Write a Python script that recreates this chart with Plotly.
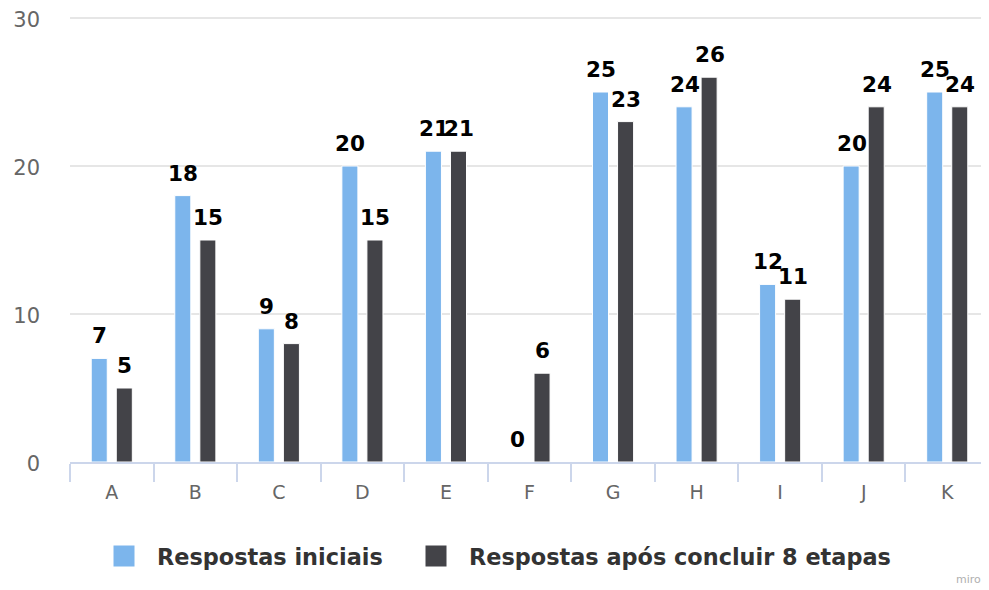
import plotly.graph_objects as go

categories = ["A", "B", "C", "D", "E", "F", "G", "H", "I", "J", "K"]
initial = [7, 18, 9, 20, 21, 0, 25, 24, 12, 20, 25]
after = [5, 15, 8, 15, 21, 6, 23, 26, 11, 24, 24]
series_names = ["Respostas iniciais", "Respostas após concluir 8 etapas"]
series_colors = ["#7cb5ec", "#434348"]
y_ticks = [0, 10, 20, 30]

FONT = "DejaVu Sans"
OFF = 8  # page body margin of the written html
W, H = 989 - OFF, 590 - OFF
L, T = 70 - OFF, 18 - OFF - 2
B = H - (462 - OFF)
PW, PH = W - L, H - T - B
Y_MAX = 30 * PH / (PH - 2)  # keep the 30 gridline 2px inside the plot area


def px_x(x):
    return (x - OFF - L) / PW


def px_y(y):
    return (H - B - (y - OFF)) / PH


fig = go.Figure()
for name, vals, col in zip(series_names, [initial, after], series_colors):
    fig.add_trace(go.Bar(
        x=categories, y=vals, name=name,
        marker=dict(color=col, line=dict(color="#ffffff", width=1)),
        showlegend=False, hoverinfo="x+y",
    ))

annotations = []
# data labels above the bars, centred on each bar of the group
for vals, shift in [(initial, -12), (after, 13)]:
    for c, v in zip(categories, vals):
        annotations.append(dict(
            x=c, y=v, xref="x", yref="y", text="<b>%d</b>" % v,
            showarrow=False, xanchor="center", yanchor="bottom",
            xshift=shift, yshift=8,
            font=dict(family=FONT, size=21.5, color="#000000"),
        ))

# custom legend (large square swatches like the reference)
shapes = []
legend_items = [(113, 155), (425, 467)]
for (sx, tx), name, col in zip(legend_items, series_names, series_colors):
    shapes.append(dict(
        type="rect", xref="paper", yref="paper",
        x0=px_x(sx), x1=px_x(sx + 22), y0=px_y(567), y1=px_y(545),
        fillcolor=col, line=dict(color="#ffffff", width=1),
    ))
    annotations.append(dict(
        text="<b>%s</b>" % name, xref="paper", yref="paper",
        x=px_x(tx), y=px_y(557), xanchor="left", yanchor="middle",
        showarrow=False, font=dict(family=FONT, size=22.4, color="#333333"),
    ))

annotations.append(dict(
    text="miro", xref="paper", yref="paper", x=px_x(983), y=px_y(579),
    xanchor="right", yanchor="middle", showarrow=False,
    font=dict(family=FONT, size=11, color="#b0b0b0"),
))

fig.update_layout(
    width=W, height=H,
    margin=dict(l=L, r=0, t=T, b=B, autoexpand=False),
    paper_bgcolor="#ffffff", plot_bgcolor="#ffffff",
    barmode="group", bargap=0.40, bargroupgap=0.36,
    font=dict(family=FONT, color="#666666"),
    showlegend=False,
    xaxis=dict(
        showline=True, linecolor="#ccd6eb", linewidth=1.5,
        ticks="outside", tickson="boundaries", ticklen=18, tickcolor="#ccd6eb", tickwidth=1.5,
        tickfont=dict(family=FONT, size=19, color="#666666"),
        ticklabelstandoff=12,
        showgrid=False, zeroline=False, fixedrange=True,
    ),
    yaxis=dict(
        range=[0, Y_MAX], tickvals=y_ticks,
        showgrid=True, gridcolor="#e6e6e6", gridwidth=1.5,
        zeroline=False, showline=False,
        tickfont=dict(family=FONT, size=21, color="#666666"),
        ticklabelstandoff=29, ticklabelshift=2, ticklabeloverflow="allow", fixedrange=True,
    ),
    annotations=annotations,
    shapes=shapes,
)

fig.write_html("out.html")
